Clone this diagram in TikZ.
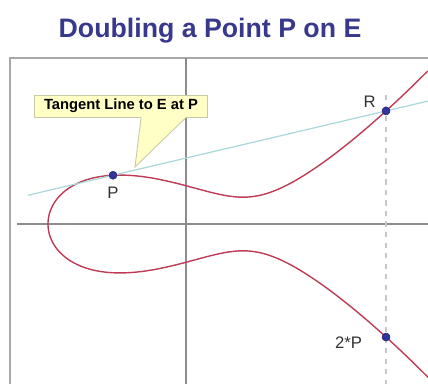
\documentclass[tikz,border=0pt]{standalone}
\usepackage{fontspec}
\setmainfont{Liberation Sans}
\usepackage{tikz}
\usetikzlibrary{
    positioning,
    calc
}
\definecolor{titleblue}{HTML}{38388C}
\definecolor{framegray}{HTML}{A8A8A8}
\definecolor{axisgray}{HTML}{8C8C8C}
\definecolor{curvered}{HTML}{BE3C55}
\definecolor{tangentteal}{HTML}{AAD8DA}
\definecolor{dashgray}{HTML}{C8C8C8}
\definecolor{dotblue}{HTML}{33339E}
\definecolor{calloutfill}{HTML}{FFFFC6}
\definecolor{calloutline}{HTML}{C9C9A6}
\tikzset{
    title text/.style={
        font=\bfseries\fontsize{15.2}{18}\selectfont, text=titleblue
    },
    frame line/.style={
        draw=framegray, line width=0.7pt
    },
    axis line/.style={
        draw=axisgray, line width=0.9pt
    },
    curve line/.style={
        draw=curvered, line width=0.8pt
    },
    tangent line/.style={
        draw=tangentteal, line width=0.7pt
    },
    guide line/.style={
        draw=dashgray, dashed, line width=0.6pt
    },
    point dot/.style={
        circle, fill=dotblue, draw=dotblue!70!black, line width=0.3pt,
        inner sep=0pt, minimum size=0.16cm
    },
    point label/.style={
        font=\fontsize{9.5}{11}\selectfont, text=black!80, inner sep=1pt
    },
    tag box/.style={
        rectangle, draw=calloutline, fill=calloutfill, line width=0.5pt,
        minimum width=3.46cm, minimum height=0.44cm, inner sep=0pt,
        font=\bfseries\fontsize{8.4}{10}\selectfont
    },
}

\begin{document}
\begin{tikzpicture}[x=0.02cm, y=-0.02cm]

    \useasboundingbox (0,0) rectangle (428,384);

    % Title
    \node[title text] (title) at (210,31) {Doubling a Point P on E};

    % Frame and axes
    \draw[frame line] (10,384) -- (10,58) -- (428,58);
    \draw[axis line] (186,58) -- (186,384);
    \draw[axis line] (17,224) -- (428,224);

    % Curve E
    \begin{scope}
        \clip (10,58) rectangle (428,384);
        \draw[curve line] plot[domain=-1.95:1.95, samples=240, smooth, variable=\t]
            ({48+100*\t*\t}, {224-42.43*\t*sqrt(\t*\t*\t*\t-4.005*\t*\t+4.212)});
    \end{scope}

    % Points
    \coordinate (Ppos) at (113,175.25);
    \coordinate (Rpos) at (386,110.97);
    \coordinate (Qpos) at (386,337.03);
    \coordinate (dtop) at (386,95);
    \coordinate (dbot) at (386,384);

    \draw[tangent line] ($(Ppos)!-0.311!(Rpos)$) -- ($(Rpos)!-0.154!(Ppos)$);
    \draw[guide line] (dtop) -- (dbot);

    \node[point dot] (P) at (Ppos) {};
    \node[point dot] (R) at (Rpos) {};
    \node[point dot] (Q) at (Qpos) {};

    \node[point label, below=3pt of P] (Plabel) {P};
    \node[point label, above left=-1pt and 3pt of R] (Rlabel) {R};
    \node[point label, left=10pt of Q, yshift=-3pt] (Qlabel) {2*P};

    % Callout
    \node[tag box] (tag) at (121,106) {Tangent Line to E at P};
    \coordinate (tip) at (135,167);
    \fill[calloutfill] ($(tag.south west)+(107,-0.8)$) -- (tip) -- ($(tag.south west)+(152,-0.8)$) -- cycle;
    \draw[calloutline, line width=0.5pt] ($(tag.south west)+(107,0)$) -- (tip) -- ($(tag.south west)+(152,0)$);

\end{tikzpicture}
\end{document}
